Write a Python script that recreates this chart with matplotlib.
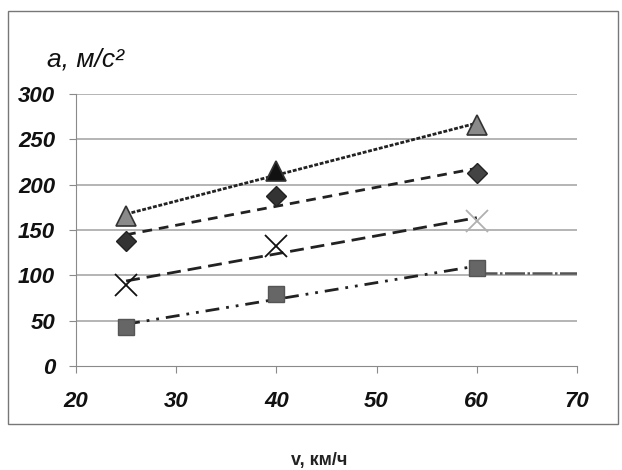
import numpy as np
import matplotlib
matplotlib.use("Agg")
import matplotlib.pyplot as plt
from matplotlib.patches import Rectangle

plt.rcParams['font.family'] = ['Liberation Sans', 'DejaVu Sans']

speed = [25, 40, 60]
tri_vals = [165, 215, 266]
dia_vals = [138, 188, 213]
x_vals = [89, 132, 160]
sq_vals = [43, 79, 108]
sq_tail_x = [60, 70]
sq_tail_y = [103, 103]

xticks = [20, 30, 40, 50, 60, 70]
yticks = [0, 50, 100, 150, 200, 250, 300]

W, H = 622, 470
fig = plt.figure(figsize=(W/100, H/100), dpi=100)
fig.patches.append(Rectangle((8/W, 1-424/H), 610/W, 413/H, transform=fig.transFigure,
                             fill=False, edgecolor='#777777', lw=1.0))
ax = fig.add_axes([76/W, 1-366/H, 501/W, 272/H])

ax.set_xlim(20, 70)
ax.set_ylim(0, 300)
ax.set_xticks(xticks)
ax.set_yticks(yticks)
for y in yticks[1:]:
    ax.axhline(y, color='#a8a8a8', lw=1.2, zorder=0)
for s in ['top', 'right']:
    ax.spines[s].set_visible(False)
for s in ['left', 'bottom']:
    ax.spines[s].set_color('#8a8a8a')
ax.tick_params(axis='both', direction='out', color='#8a8a8a', length=5, labelsize=16)
for lab in ax.get_xticklabels() + ax.get_yticklabels():
    lab.set_fontstyle('italic')
    lab.set_fontweight('bold')
    lab.set_color('#111111')
ax.tick_params(axis='x', pad=13)
ax.tick_params(axis='y', pad=10)

xs = np.array(speed, dtype=float)
xl = np.array([25, 60], dtype=float)

def trend(vals, dashes):
    k, b = np.polyfit(xs, np.array(vals, dtype=float), 1)
    ax.plot(xl, k*xl + b, color='#222222', lw=2.0, dashes=dashes, zorder=2)

trend(tri_vals, (1.4, 0.6))
trend(dia_vals, (3.5, 2.5))
trend(x_vals, (5, 2.5))
trend(sq_vals, (5, 2.5, 1, 2.5, 1, 2.5))
ax.plot(sq_tail_x, sq_tail_y, color='#555555', lw=1.8, dashes=(8, 1, 1, 1), zorder=2)

tri_colors = ['#8a8a8a', '#111111', '#8a8a8a']
dia_colors = ['#333333', '#333333', '#444444']
x_colors = ['#111111', '#111111', '#b0b0b0']
sq_colors = ['#666666', '#666666', '#666666']

for i in range(3):
    ax.plot(speed[i], tri_vals[i], marker='^', ms=15, color=tri_colors[i], mec='#333333', mew=1.2, zorder=3, clip_on=False)
    ax.plot(speed[i], dia_vals[i], marker='D', ms=10, color=dia_colors[i], mec='#222222', zorder=3)
    ax.plot(speed[i], x_vals[i], marker='x', ms=16, color=x_colors[i], mew=1.3, zorder=3)
    ax.plot(speed[i], sq_vals[i], marker='s', ms=12, color=sq_colors[i], mec='#555555', zorder=3)

fig.text(47/W, 1-60/H, 'a, м/с²', fontsize=19, fontstyle='italic', color='#111111', va='center', ha='left')
fig.text(319/W, 1-461/H, 'v, км/ч', fontsize=13, fontweight='bold', color='#222222', va='center', ha='center')

fig.savefig('out.png', dpi=100)
